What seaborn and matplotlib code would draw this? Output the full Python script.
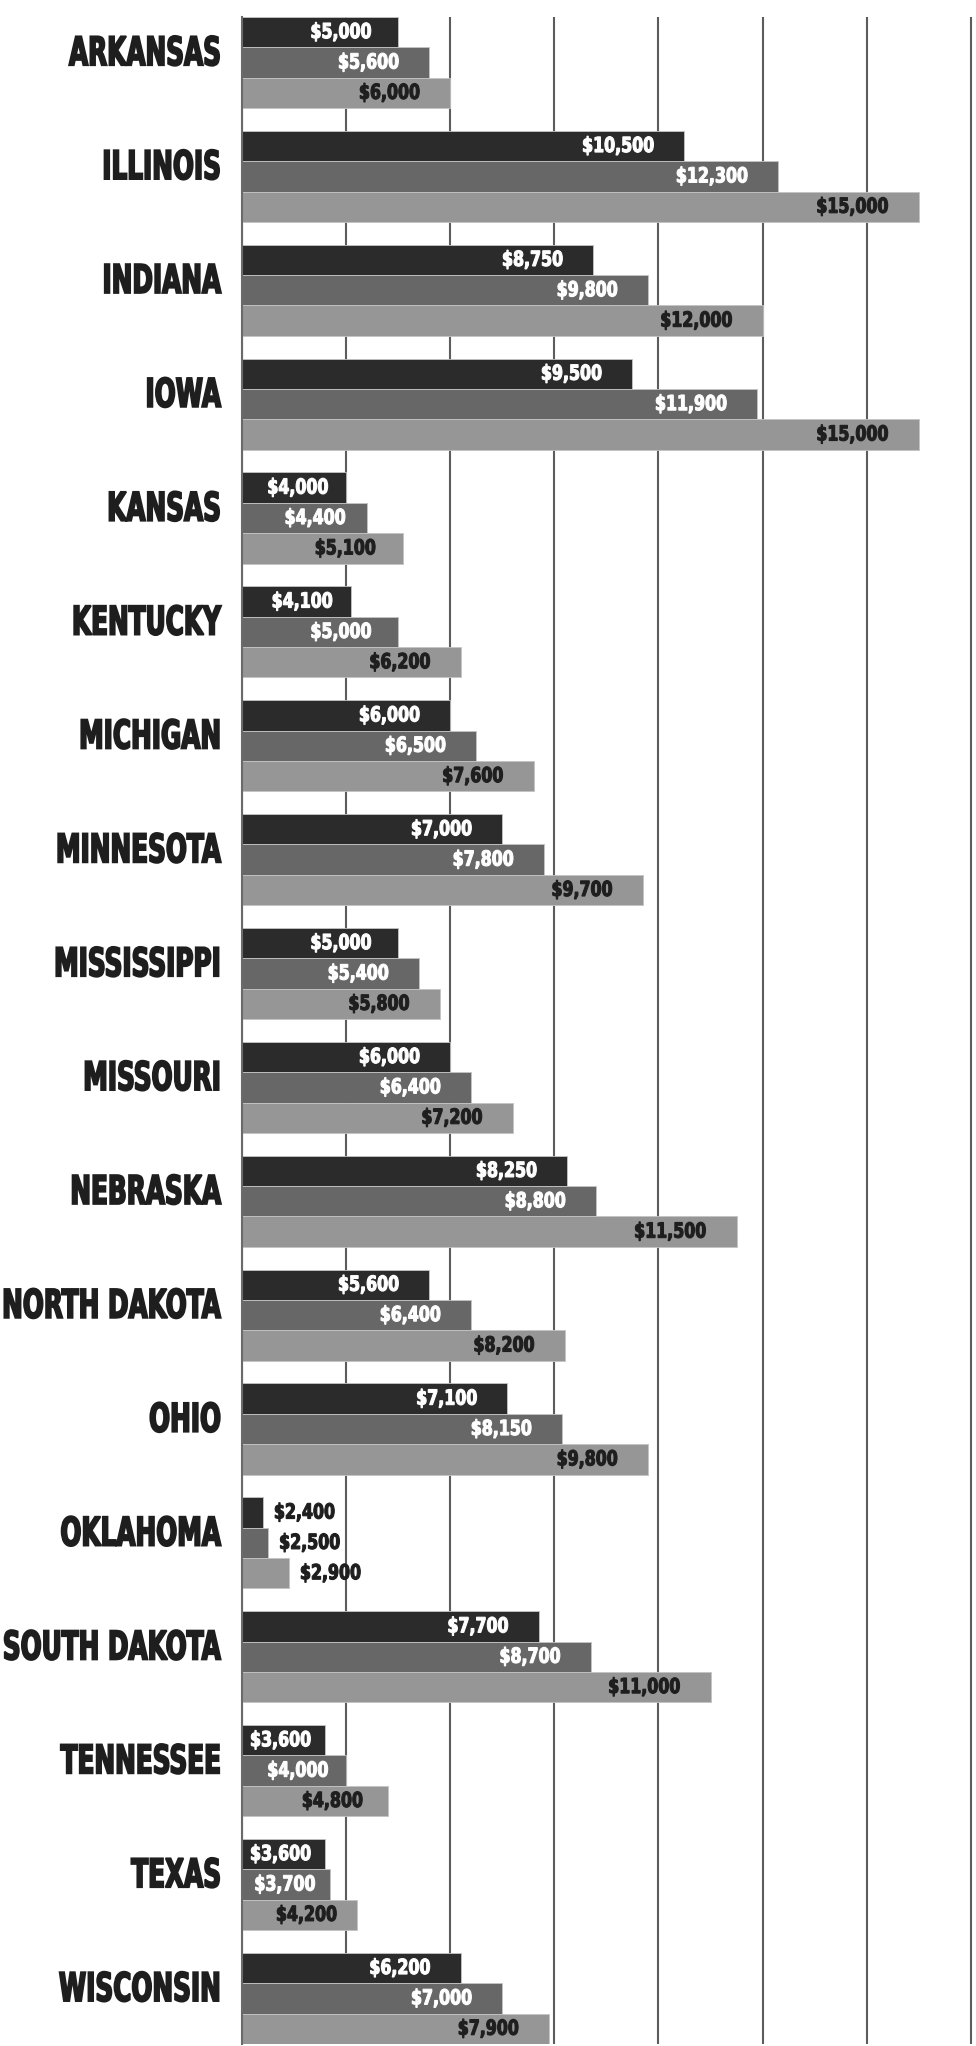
import matplotlib
matplotlib.use("Agg")
import matplotlib.pyplot as plt
import numpy as np
import pandas as pd
import seaborn as sns
from matplotlib.patheffects import AbstractPathEffect
from matplotlib.transforms import Affine2D, Bbox

# States and the three tiers of values per state
states = ['ARKANSAS', 'ILLINOIS', 'INDIANA', 'IOWA', 'KANSAS', 'KENTUCKY',
          'MICHIGAN', 'MINNESOTA', 'MISSISSIPPI', 'MISSOURI', 'NEBRASKA',
          'NORTH DAKOTA', 'OHIO', 'OKLAHOMA', 'SOUTH DAKOTA', 'TENNESSEE',
          'TEXAS', 'WISCONSIN']
tier_1 = [5000, 10500, 8750, 9500, 4000, 4100, 6000, 7000, 5000, 6000,
          8250, 5600, 7100, 2400, 7700, 3600, 3600, 6200]
tier_2 = [5600, 12300, 9800, 11900, 4400, 5000, 6500, 7800, 5400, 6400,
          8800, 6400, 8150, 2500, 8700, 4000, 3700, 7000]
tier_3 = [6000, 15000, 12000, 15000, 5100, 6200, 7600, 9700, 5800, 7200,
          11500, 8200, 9800, 2900, 11000, 4800, 4200, 7900]
tiers = ['tier_1', 'tier_2', 'tier_3']

x_start, x_end = 2000, 16100
grid_ticks = np.arange(2000, 16001, 2000)

bar_colors = ['#2b2b2b', '#676767', '#969696']
label_colors = ['white', 'white', '#1e1e1e']


class Squeeze(AbstractPathEffect):
    """Narrow the glyphs horizontally (no condensed font installed)."""

    def __init__(self, sx, stroke=0.0, anchor='right'):
        super().__init__()
        self.sx = sx
        self.stroke = stroke
        self.anchor = anchor
        self.full_extent = None

    def draw_path(self, renderer, gc, tpath, affine, rgbFace=None):
        bb = self.full_extent(renderer)
        x0 = bb.x1 if self.anchor == 'right' else bb.x0
        t = affine + Affine2D().translate(-x0, 0).scale(self.sx, 1).translate(x0, 0)
        if self.stroke:
            gc0 = renderer.new_gc()
            gc0.copy_properties(gc)
            gc0.set_linewidth(self.stroke)
            gc0.set_foreground(rgbFace)
            gc0.set_joinstyle('miter')
            renderer.draw_path(gc0, tpath, t, rgbFace)
            gc0.restore()
        else:
            renderer.draw_path(gc, tpath, t, rgbFace)


def squeeze(text_obj, sx, stroke, anchor):
    eff = Squeeze(sx, stroke, anchor)
    full = text_obj.get_window_extent
    eff.full_extent = full

    # report the narrowed box, the one that is actually drawn
    def narrowed(*args, **kwargs):
        bb = full(*args, **kwargs)
        if anchor == 'right':
            return Bbox([[bb.x1 - sx * bb.width, bb.y0], [bb.x1, bb.y1]])
        return Bbox([[bb.x0, bb.y0], [bb.x0 + sx * bb.width, bb.y1]])

    text_obj.get_window_extent = narrowed
    text_obj.set_path_effects([eff])


df = pd.DataFrame({
    'state': states * 3,
    'value': tier_1 + tier_2 + tier_3,
    'tier': [t for t in tiers for _ in states],
})

sns.set_theme(style="white")
plt.rcParams['font.family'] = ['DejaVu Sans']

fig, ax = plt.subplots(figsize=(9.76, 20.46), dpi=100)
fig.subplots_adjust(left=242 / 976, right=1.0, top=1 - 17 / 2046, bottom=0.001)

sns.barplot(data=df, y='state', x='value', hue='tier', orient='h',
            palette=bar_colors, width=0.8, edgecolor='#c4c4c4', linewidth=0.6,
            legend=False, ax=ax)

ax.set_xlim(x_start, x_end)
ax.set_ylim(len(states) - 0.6, -0.4)
ax.set_xticks(grid_ticks)
ax.set_axisbelow(True)
ax.xaxis.grid(True, color='#5c5c5c', linewidth=1.5)
ax.yaxis.grid(False)
ax.tick_params(axis='both', length=0, labelleft=False, labelbottom=False)
ax.set_xlabel('')
ax.set_ylabel('')
for side in ['top', 'right', 'bottom']:
    ax.spines[side].set_visible(False)
ax.spines['left'].set_color('#6a6a6a')
ax.spines['left'].set_linewidth(1.5)

# State names, right aligned beside the axis, slightly above the group centre
for i, name in enumerate(states):
    t = ax.annotate(name, xy=(0, i), xycoords=('axes fraction', 'data'),
                    xytext=(-15, 6), textcoords='offset points',
                    ha='right', va='center', fontsize=28.5, fontweight='bold',
                    color='#1e1e1e')
    squeeze(t, 0.625, 1.3, 'right')

# Value labels inside the bar end (outside for very short bars)
for k, container in enumerate(ax.containers):
    for bar in container:
        v = bar.get_width()
        yc = bar.get_y() + bar.get_height() / 2
        txt = f'${v:,.0f}'
        if v < 3000:
            t = ax.annotate(txt, xy=(v, yc), xytext=(8, 0), textcoords='offset points',
                            ha='left', va='center', fontsize=15, fontweight='bold',
                            color='#1e1e1e')
            squeeze(t, 0.76, 0.8, 'left')
        else:
            pad = min(0.17 * (v - x_start), 580)
            t = ax.text(v - pad, yc, txt, ha='right', va='center', fontsize=15,
                        fontweight='bold', color=label_colors[k])
            squeeze(t, 0.76, 0.8, 'right')

plt.savefig('out.png', dpi=100)
